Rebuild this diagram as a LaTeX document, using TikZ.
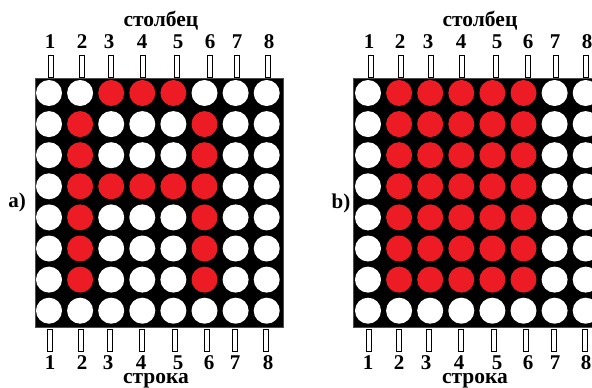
\documentclass[tikz,border=0pt]{standalone}
\usepackage{fontspec}
\setmainfont{Liberation Serif}
\newfontfamily\tnr{Liberation Serif}
\definecolor{ledred}{RGB}{237,28,36}
\begin{document}
\begin{tikzpicture}[x=1pt,y=-1pt,
  board/.style={fill=black, draw=black!70, line width=0.6pt},
  led/.style={circle, minimum size=26pt, inner sep=0pt, fill=white},
  pinbox/.style={draw=black, line width=0.8pt, fill=white, minimum width=5pt, minimum height=22pt, inner sep=0pt},
  lbl/.style={font=\tnr\bfseries\fontsize{21}{21}\selectfont, inner sep=0pt, anchor=base},
  word/.style={font=\tnr\bfseries\fontsize{21.5}{21.5}\selectfont, inner sep=0pt, anchor=base}]
\useasboundingbox (0,0) rectangle (592,388);
\begin{scope}
\clip (0,0) rectangle (592,388);
% ---------- (a) ----------
\node[word] (colA) at (161,26) {столбец};
\node[word] (rowA) at (156,383.5) {строка};
\node[lbl] (labA) at (17,207) {a)};
\fill[board] (35,78) rectangle (283,327);
\foreach \r/\pat in {1/{0,0,1,1,1,0,0,0},2/{0,1,0,0,0,1,0,0},3/{0,1,0,0,0,1,0,0},4/{0,1,1,1,1,1,0,0},5/{0,1,0,0,0,1,0,0},6/{0,1,0,0,0,1,0,0},7/{0,1,0,0,0,1,0,0},8/{0,0,0,0,0,0,0,0}}{
  \foreach \v [count=\c] in \pat {
    \ifnum\v=1 \def\col{ledred}\else\def\col{white}\fi
    \node[led, fill=\col] (a-\r-\c) at ({49+31.1*(\c-1)},{93+31.1*(\r-1)}) {};
  }
}
\foreach \x [count=\i] in {51,81.5,111,143,176.5,209.5,236.5,268}
  \node[pinbox] (apt\i) at (\x,66) {};
\foreach \x [count=\i] in {50,80.5,109.5,142,175,207,235,266}
  \node[pinbox] (apb\i) at (\x,340.5) {};
\foreach \x [count=\i] in {50,82,109,142,178,210,237,269}
  \node[lbl] (ant\i) at (\x,48) {\i};
\foreach \x [count=\i] in {50,82,108,141,178,209,235,268}
  \node[lbl] (anb\i) at (\x,369) {\i};
% ---------- (b) ----------
\node[word] (colB) at (480,26) {столбец};
\node[word] (rowB) at (475,383.5) {строка};
\node[lbl] (labB) at (341,208) {b)};
\fill[board] (353,78) rectangle (601,327);
\foreach \r/\pat in {1/{0,1,1,1,1,1,0,0},2/{0,1,1,1,1,1,0,0},3/{0,1,1,1,1,1,0,0},4/{0,1,1,1,1,1,0,0},5/{0,1,1,1,1,1,0,0},6/{0,1,1,1,1,1,0,0},7/{0,1,1,1,1,1,0,0},8/{0,0,0,0,0,0,0,0}}{
  \foreach \v [count=\c] in \pat {
    \ifnum\v=1 \def\col{ledred}\else\def\col{white}\fi
    \node[led, fill=\col] (b-\r-\c) at ({368+31.1*(\c-1)},{93+31.1*(\r-1)}) {};
  }
}
\foreach \x [count=\i] in {370.5,400.5,430.5,461.5,495.5,528,555.5,585.5}
  \node[pinbox] (bpt\i) at (\x,66) {};
\foreach \x [count=\i] in {369,399.3,429,460.8,494,526,554,585}
  \node[pinbox] (bpb\i) at (\x,340.5) {};
\foreach \x [count=\i] in {369,400,428,461,497,528,555,587}
  \node[lbl] (bnt\i) at (\x,48) {\i};
\foreach \x [count=\i] in {368,399,426,459,497,528,555,586}
  \node[lbl] (bnb\i) at (\x,369) {\i};
\end{scope}
\end{tikzpicture}
\end{document}
